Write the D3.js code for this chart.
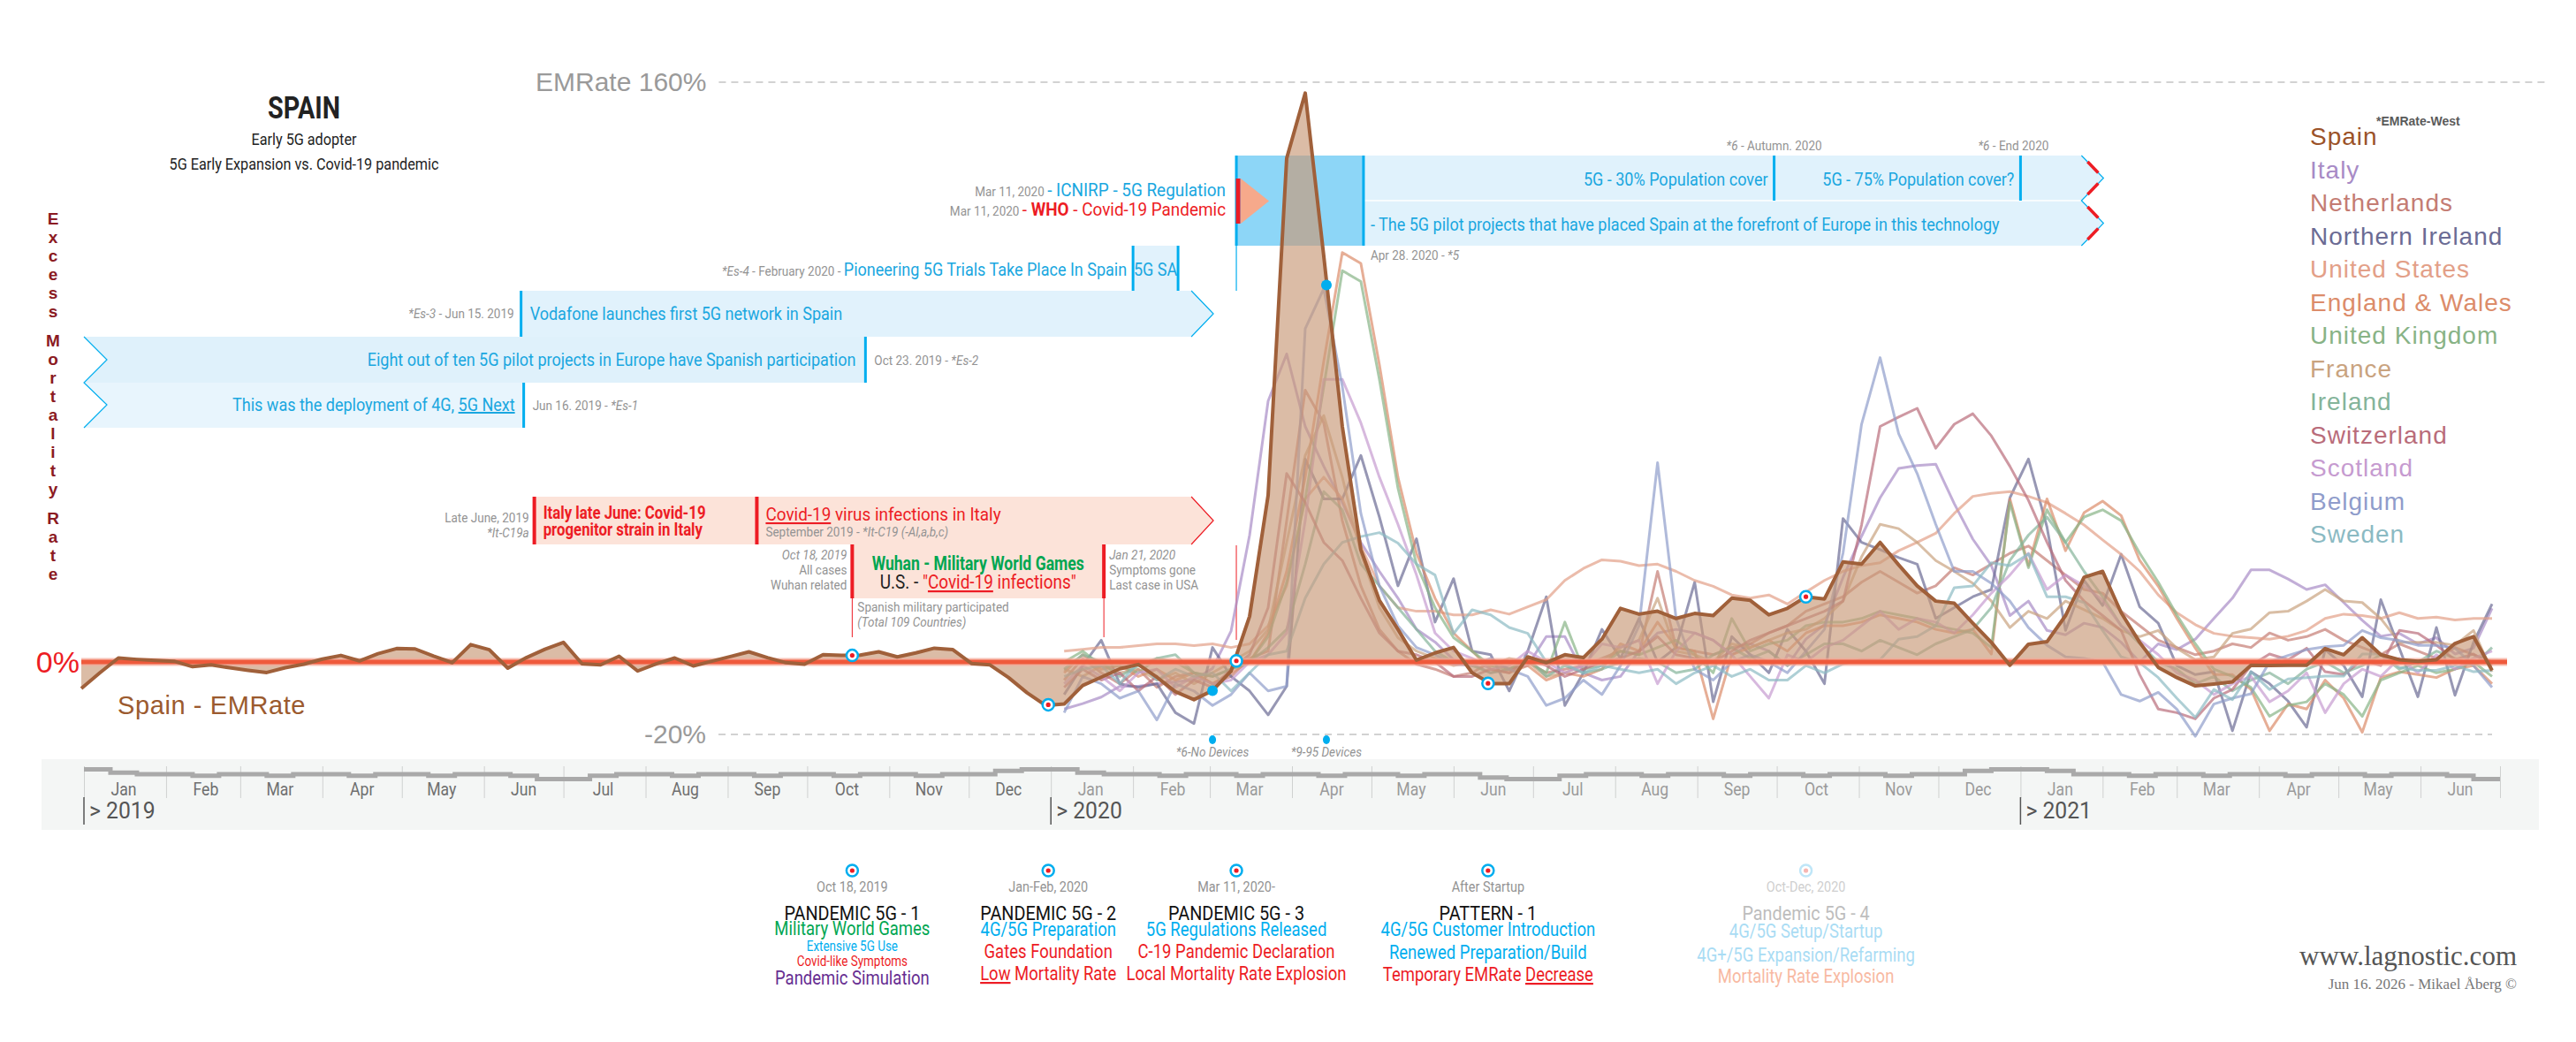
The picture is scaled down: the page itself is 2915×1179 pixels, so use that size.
<!DOCTYPE html>
<html>
<head>
<meta charset="utf-8">
<script src="https://cdn.jsdelivr.net/npm/d3@7"></script>
<style>
  body { margin: 0; background: #fff; }
</style>
</head>
<body>
<svg id="chart"></svg>
<script>
// ---- data -------------------------------------------------------------
// weekly excess mortality rate (%), Spain from the week of 2018-12-31
var spainStart = '2018-12-31'
var spain = [
  -7.3, -3, 1.1, 0.7, 0.4, 0.2, -1.3, -0.8, -1.6, -2.3, -2.9, -1.6, -0.6, 0.8, 1.8, 0.3, 2.3, 3.7, 3.6, 1.6,
  -0.2, 4.8, 3.4, -1.7, 1.2, 3.5, 5.4, -0.5, -0.8, 1.6, -2.5, -0.5, 1.1, -1.1, 0.2, 1.5, 2.8, 1.2, -0.2, -0.6,
  2.0, 1.8, 1.9, 2.8, 1.4, 2.5, 3.8, 3.4, -0.4, -0.8, -4.3, -8.5, -12, -11.6, -6.5, -4.2, -1.9, -0.7, -4.2, -8.2,
  -10.4, -7.9, -2.5, 12.6, 46, 139, 157, 112, 65, 31, 17, 9, 0.5, 2.5, 4, -3, -6, -6, 1.4, -0.2,
  2, 1.2, 6.3, 14.8, 13.2, 14, 12, 13.4, 12.8, 17.6, 17, 13, 14.8, 18, 17.4, 27.6, 27, 33, 26.8, 21,
  16.8, 16.2, 10.7, 5.4, -0.9, 4.9, 5.6, 12.8, 23.4, 25, 13.6, 5.4, -1.5, -4.3, -6.6, -6.1, -5.5, -0.9, -1, -0.9,
  -0.9, 3.7, 2, 6.7, 2, 0.6, 0.2, 0.6, 5.1, 7, -2.3
]

// the other countries, weekly from the week of 2020-01-06
var countriesStart = '2020-01-06'
var italy = [
  -13, -11.5, -9.7, -6.7, -6.7, -6, -5.5, -4.9, -1.8, 8.5,
  35, 72, 85, 65, 54, 44, 33, 25, 17.6, 9, 5.5, 0.6, -0.6,
  -3, -2, -1, 7, 7, -3, -5, -4, 3, 8, 9, 8, 6, 2, 5, 3, -1, 6.3, 10.3,
  23.3, 34.7, 45.3, 53.4, 54.2, 54.6, 43.7, 33.9, 26.6, 12.8, 16.8, 8.7, 7.5, 10.7, 9.5, 5.4,
  0, 5, 3.4, 6.3, 12, 17.6, 25.4, 25.4, 22.9, 20, 21.3, 16.4, 11.5, 7.1, 7.9, 5, 6.7, 2.2, 3.8, 14.8
]
var netherlands = [
  -5, 1, -3, -6, -2, -7, -4, -3, -6, -4,
  1, 3, 39, 75, 66, 39, 21, 9, 3, -0.6, -2, -4, -3,
  0, -2, 0, -3, -2, -1, 1, 3, 2, 25, 4, 3, 2, 4, 5, 8, 10, 14, 16,
  18, 22, 25, 22, 19, 21, 26, 24, 27, 30, 32, 28, 24, 20, 19, 14,
  10, 6, 4, 2, 3, 5, 4, 8, 6, 7, 9, 6, 4, 2, 5, 3, 1, 4, 2, 0
]
var northernIreland = [
  -9, -1, 6, -6, -7, -6, -14, -17, 4, -4,
  -8, -14.6, -6.7, 56, 45, 45, 57, 40, 21, 34, 11, 23, 3,
  2, -8, 3, 18, -12, -3, 9, 1, 12, 0, 4, 22, -11, 7, 2, -3, 9, 3, -6,
  39.6, 33, 31, 28.8, 27, 12, 15, 18, 20, 45.3, 56, 37.2, 8.7, 22.5, 15.6, 29.7,
  15.2, 10.7, -1, -3.5, -2.7, -19, -2.7, -6, -10.8, -18, 3.4, -1, -9.6, 17.2, 3.8, -9.6, 9.5, -9.2, 5.4, 16
]
var unitedStates = [
  3, 3.5, 4, 4, 4.5, 5, 5, 4.5, 5, 4,
  5, 10, 21, 45, 51, 45, 32, 21, 15, 14, 14, 13, 13,
  14.4, 13.2, 15.2, 17.2, 22.5, 25.8, 28.2, 27.8, 26.6, 27, 25, 22.5, 20.9, 18.5, 17.6, 18.5, 16, 19.3, 22.5,
  25, 26.6, 27.4, 30.7, 33, 35.5, 41, 45.7, 46.5, 47, 45.7, 44, 41, 37.8, 33.7, 29.7,
  25, 18.5, 13.6, 10.3, 7.9, 7.1, 6.7, 6.3, 7.1, 8.7, 12, 13.2, 12.8, 12, 13.6, 12, 12.4, 11.6, 12, 12
]
var englandWales = [
  -3, 2, -2, -1, -4, -2, -5, -3, -6, -3,
  0, 8, 25, 51, 83, 113, 110, 82, 51, 30, 17.6, 8, 3,
  -2, -3, -1, -5, -3, -4, -2, 5, 3, 11, 4, 3, -15.7, 2, 4, 6, 3, 8, 10,
  10, 11, 13, 12, 11, 9, 8, 9, 2.2, 45, 26.6, 45, 30.7, 41.2, 44.4, 40.4,
  28, 20.9, 12, 3.8, -3.5, -3.5, -7.6, -19, -11.6, -13, -5, -10, -19.4, -4.3, -2.7, -3.5, -4.3, -1.9, -1, -6
]
var unitedKingdom = [
  0, 3, -1, -1, -3, 1, 0, -3, -4, -2,
  0, 7, 22, 45, 76, 108, 105, 78, 48, 27, 15, 6.7, 3,
  -1, -2, 0, -3, 11, -2, -1, 3, 2, 4, 6, 2, -3, 12, 3, 5, 6, 10, 11,
  11, 12, 14, 13, 12, 10, 9, 8, 4, 44, 26, 42, 33, 40, 42, 39,
  30, 22, 13, 5, -2, -4, -7, -15, -12, -11, -6, -9, -15, -5, -3, -1, -3, -2, 0, -4
]
var france = [
  -2, -4, -1, -3, -2, -5, -3, -6, -3, 0,
  3, 9, 33, 57, 68, 51, 30, 15, 6.7, 3, 1, -1, 0,
  -1, 1, 0, -4, -3, -1, 0, 4, 6, 17.6, 3, 2, 0, 5, 4, 6, 8, 9, 12,
  16.8, 29, 38, 36.8, 33, 28, 25, 21.7, 16.8, 9.5, 14, 12, 16.8, 14.4, 12, 8.7,
  7, 8.7, 3.8, 0.6, 1.4, 7.9, 9.1, 13.6, 14, 16.8, 20, 16.8, 16.4, 12, 5.4, 5.4, 5.4, 4.6, 8.7, -2.7
]
var ireland = [
  -2, 2, 0, -4, -1, 1, 2, -3, -4, -2,
  0, 4, 9, 27, 47, 42, 27, 21, 15, 9, 3, 0, -1,
  -3, -2, 1, -4, -1, -3, -2, 0, 1, 0, -3, -2, 2, 4, 1, 3, -1, 2, 5,
  5, 3, 6, 4, 2, 5, 7, 9, 15, 28, 35, 40, 33, 25, 18, 10,
  5, 0, -2, -6, -4, -8, -5, -3, -6, -2, 0, -3, -1, 2, -2, 0, 3, 1, -1, 4
]
var switzerland = [
  -7, -2, -5, -3, -8, -4, -9, -5, -7, -2,
  2, 15, 52, 44, 33, 28, 17.6, 8, 3, 2, 0, -4, -4,
  -2, -3, 1, -1, -4, -2, 0, 1, 3, 7, 2, 1, 0, 3, 6, 8, 10, 12, 14,
  16.8, 37.8, 65, 67.6, 70, 59, 65.6, 68.5, 62.4, 54, 44.6, 33, 22.5, 16.8, 12.8, 8.7,
  -3.5, -13, -14, -15.7, -10, -7.6, -1, 2.2, 0.6, 3.8, -2.7, -3.5, 0.6, -1, 8.7, 7.9, 4.6, 0.6, 2.2, -1
]
var scotland = [
  -6, -1, -4, -8, -3, -2, -7, -4, -6, -5,
  0, 2, 8, 39, 78, 78, 66, 51, 38, 24, 8, 3, 1,
  -2, -1, 3, 0, -3, -1, 5, 4, 6, -6, 3, 8, 6, 2, -4, -10, 2, 0, 4,
  6, 10, 14, 9, 12, 11, 8, 13, 19, 24, 30, 20, 24, 21, 17, 10,
  6, 2, -3, -5, -9, -6, -4, -11, -8, -3, -14, -6, -2, -4, 1, -3, 2, -2, 1, 3
]
var belgium = [
  -14, -4, -6, -10, -8, -16, -6, -8, -12, -9,
  -3, -8, -6.7, 92, 103, 76, 41, 21, 10, 4, 2, -0.6, -1,
  1, -2, -4, -12, -10, -5, -9, -1, 10, 55, 12, -2, -5, 0, 2, 0, -3, 3, 9,
  30, 65.6, 84, 63, 52, 38, 25, 25, 21.7, 16.8, 9.5, 4.6, 1.4, 1, 0, -9,
  -10.8, -8.4, -13, -20.5, -11.6, -10, -8.8, 0, 1.8, 3.4, 4.2, 4.6, 8.7, 6.7, 5.9, 4.6, 4.6, 3.8, -1, -7
]
var sweden = [
  -4, -2, -1, -6, 0, -5, -2, -4, -3, -8,
  -3, 2, 3, 17.6, 27, 33, 34.6, 35.7, 32.8, 27, 24, 7.8, 14.4,
  13, 9.5, 7.9, 0, -0.5, -3, -1, -2, -3, -2, -6, -3, -1, -4, -2, -5, -5, -1, -3,
  -0.5, 0.6, 0.6, 6.3, 7, 10, 20.5, 21, 27.4, 26.6, 29.8, 18, 18, 16.4, 8.7, 1.4,
  -0.2, -4.3, -10, -15.3, -7.6, -10.4, -2.7, -7.6, -4.7, -4.3, -3.9, -3.9, 2.2, 2.2, -1.5, -2.3, -2.3, -1, -2.7, -2.3
]

var countryNames = ['Italy', 'Netherlands', 'Northern Ireland', 'United States', 'England & Wales',
  'United Kingdom', 'France', 'Ireland', 'Switzerland', 'Scotland', 'Belgium', 'Sweden']
var countrySeries = [italy, netherlands, northernIreland, unitedStates, englandWales,
  unitedKingdom, france, ireland, switzerland, scotland, belgium, sweden]

// target markers on the Spain curve (also the columns of the bottom key)
var markerDates = ['2019-10-18', '2019-12-31', '2020-03-11', '2020-06-14', '2020-10-12']
var markerValues = [1.8, -11.8, 0.3, -5.9, 18]

// device dots
var deviceDates = ['2020-03-02', '2020-04-14']
var deviceValues = [-7.9, 104]
var deviceLabels = ['*6-No Devices', '*9-95 Devices']

// grey step strip above the months, three levels per month (Jan 2019 .. Jun 2021)
var monthStrip = [
  0, 2, 3,  3, 4, 3,  3, 4, 3,  3, 4, 3,  3, 4, 3,  3, 4, 6,  6, 4, 3,  3, 4, 3,  3, 4, 3,  3, 4, 3,  3, 4, 3,  3, 1, 0,
  0, 2, 3,  3, 4, 3,  3, 4, 3,  3, 4, 3,  3, 4, 3,  3, 5, 6,  6, 4, 3,  3, 4, 3,  3, 4, 3,  3, 4, 3,  3, 4, 3,  3, 1, 0,
  0, 1, 3,  3, 4, 3,  3, 4, 3,  3, 4, 3,  3, 4, 3,  3, 4, 6
]
var monthNames = ['Jan', 'Feb', 'Mar', 'Apr', 'May', 'Jun', 'Jul', 'Aug', 'Sep', 'Oct', 'Nov', 'Dec']
var yearLabels = ['> 2019', '> 2020', '> 2021']
var yTicks = [160, 0, -20]

// annotation anchor dates
var ann = {
  es1: '2019-06-16', es2: '2019-10-23', es3: '2019-06-15', saFrom: '2020-02-01', saTo: '2020-02-18',
  arrowEnd: '2020-02-23', mar11: '2020-03-11', apr28: '2020-04-28', autumn: '2020-09-30', end2020: '2021-01-01',
  bandEnd: '2021-01-24', italyJune: '2019-06-20', italySep: '2019-09-12', wuhan: '2019-10-18', jan21: '2020-01-21'
}

var keyColumns = [
  {date: 'Oct 18, 2019', title: 'PANDEMIC 5G - 1'},
  {date: 'Jan-Feb, 2020', title: 'PANDEMIC 5G - 2'},
  {date: 'Mar 11, 2020-', title: 'PANDEMIC 5G - 3'},
  {date: 'After Startup', title: 'PATTERN - 1'},
  {date: 'Oct-Dec, 2020', title: 'Pandemic 5G - 4'}
]

// ---- styles -------------------------------------------------------------
var spainColor = '#9b5228'
var countryColors = ['#a88bc6', '#c47c73', '#6b6b94', '#e3a088', '#dc8c6a', '#88b386',
  '#c9a37f', '#84b49a', '#b96c7a', '#c69bd0', '#8f9ccb', '#8bbac3']
var BLUE = '#00aeef', RED = '#ed1c24', GREY = '#939393', GREEN = '#00a651'
// no condensed face is installed, so Roboto is squeezed with textLength
var COND = "Roboto,'Open Sans',sans-serif"
var SANS = "'Liberation Sans',Arial,sans-serif"

// ---- setup --------------------------------------------------------------
var W = 2915, H = 1179
var svg = d3.select('#chart').attr('width', W).attr('height', H)
var parse = d3.timeParse('%Y-%m-%d')
var x = d3.scaleTime().domain([parse('2019-01-01'), parse('2021-07-01')]).range([95, 2829])
var y = d3.scaleLinear().domain([-20, 160]).range([831, 93])
var X = function(s){ return x(parse(s)) }
var weekDate = function(start, i){ return d3.timeDay.offset(parse(start), 7 * i) }

function txt(g, px, py, parts, o){
  o = o || {}
  var font = o.font || COND
  var t = g.append('text').attr('x', px).attr('y', py)
    .attr('text-anchor', o.anchor || 'start')
    .style('font-family', font)
    .style('font-size', (o.size || 20) + 'px')
    .style('font-weight', o.weight || null)
    .style('letter-spacing', o.ls || null)
  parts.forEach(function(p){
    if (typeof p == 'string') p = {t: p}
    t.append('tspan').text(p.t)
      .attr('fill', p.c || o.fill || '#333')
      .style('font-size', p.s ? p.s + 'px' : null)
      .style('font-style', p.i ? 'italic' : null)
      .style('font-weight', p.b ? 'bold' : null)
      .style('text-decoration', p.u ? 'underline' : null)
  })
  var cf = o.cf != null ? o.cf : (font == COND ? 0.9 : 1)
  if (cf != 1) {
    var len = t.node().getComputedTextLength()
    t.attr('textLength', len * cf).attr('lengthAdjust', 'spacingAndGlyphs')
  }
  return t
}

var gAnn = svg.append('g')
var gAxis = svg.append('g')
var gLines = svg.append('g')
var gTop = svg.append('g')

// ---- title ----------------------------------------------------------------
txt(gTop, 344, 134, ['SPAIN'], {anchor: 'middle', size: 35, weight: 'bold', fill: '#222', cf: 0.82})
txt(gTop, 344, 164, ['Early 5G adopter'], {anchor: 'middle', size: 18, fill: '#222'})
txt(gTop, 344, 192, ['5G Early Expansion vs. Covid-19 pandemic'], {anchor: 'middle', size: 18, fill: '#222'})

// vertical axis title
var words = ['Excess', 'Mortality', 'Rate'], ly = 254
words.forEach(function(w){
  w.split('').forEach(function(ch){
    txt(gTop, 60, ly, [ch], {anchor: 'middle', size: 19, weight: 'bold', fill: '#8b1a22', font: SANS})
    ly += 21
  })
  ly += 12
})

// ---- annotation bands ----------------------------------------------------
function poly(g, pts, fill, stroke, sw){
  return g.append('path').attr('d', 'M' + pts.map(function(p){ return p.join(',') }).join('L') + 'Z')
    .attr('fill', fill).attr('stroke', stroke || 'none').attr('stroke-width', sw || 0)
}
function pline(g, pts, stroke, sw){
  return g.append('path').attr('d', 'M' + pts.map(function(p){ return p.join(',') }).join('L'))
    .attr('fill', 'none').attr('stroke', stroke).attr('stroke-width', sw)
}
function bar(g, px, y0, y1, color, w){
  g.append('rect').attr('x', px - w / 2).attr('y', y0).attr('width', w).attr('height', y1 - y0).attr('fill', color)
}

var x0 = x.range()[0], xEnd = X(ann.arrowEnd), tip = 25

// Eight out of ten ... (notched tail on the left)
poly(gAnn, [[x0, 381], [X(ann.es2), 381], [X(ann.es2), 433], [x0, 433], [x0 + 26, 407]], '#dff1fb')
// This was the deployment ...
poly(gAnn, [[x0, 433], [X(ann.es1), 433], [X(ann.es1), 484], [x0, 484], [x0 + 26, 458]], '#e8f5fd')
pline(gAnn, [[x0, 381], [x0 + 26, 407], [x0, 433], [x0 + 26, 458], [x0, 484]], BLUE, 1.2)
bar(gAnn, X(ann.es2), 381, 433, BLUE, 3)
bar(gAnn, X(ann.es1), 433, 484, BLUE, 3)
txt(gAnn, X(ann.es2) - 11, 414, ['Eight out of ten 5G pilot projects in Europe have Spanish participation'], {anchor: 'end', fill: '#1aa7e0', size: 20})
txt(gAnn, X(ann.es2) + 10, 413, [{t: 'Oct 23. 2019 - '}, {t: '*Es-2', i: 1}], {fill: GREY, size: 15})
txt(gAnn, X(ann.es1) - 10, 465, [{t: 'This was the deployment of 4G, '}, {t: '5G Next', u: 1}], {anchor: 'end', fill: '#1aa7e0', size: 20})
txt(gAnn, X(ann.es1) + 10, 464, [{t: 'Jun 16. 2019 - '}, {t: '*Es-1', i: 1}], {fill: GREY, size: 15})

// Vodafone arrow
poly(gAnn, [[X(ann.es3), 329], [xEnd, 329], [xEnd + tip, 355], [xEnd, 381], [X(ann.es3), 381]], '#e1f2fc')
pline(gAnn, [[xEnd, 329], [xEnd + tip, 355], [xEnd, 381]], BLUE, 1.2)
bar(gAnn, X(ann.es3), 329, 381, BLUE, 3)
txt(gAnn, X(ann.es3) + 10, 362, ['Vodafone launches first 5G network in Spain'], {fill: '#1aa7e0', size: 20})
txt(gAnn, X(ann.es3) - 8, 360, [{t: '*Es-3', i: 1}, {t: ' - Jun 15. 2019'}], {anchor: 'end', fill: GREY, size: 15})

// Pioneering 5G trials + 5G SA box
poly(gAnn, [[X(ann.saFrom), 278], [X(ann.saTo), 278], [X(ann.saTo), 329], [X(ann.saFrom), 329]], '#e1f2fc')
bar(gAnn, X(ann.saFrom), 278, 329, BLUE, 3)
bar(gAnn, X(ann.saTo), 278, 329, BLUE, 3)
txt(gAnn, (X(ann.saFrom) + X(ann.saTo)) / 2, 312, ['5G SA'], {anchor: 'middle', fill: '#1aa7e0', size: 20})
txt(gAnn, X(ann.saFrom) - 7, 312, [{t: '*Es-4', i: 1, c: GREY, s: 15}, {t: ' - February  2020 - ', c: GREY, s: 15},
  {t: 'Pioneering 5G Trials Take Place In Spain', c: '#1aa7e0'}], {anchor: 'end', size: 20})

// top band: regulation / pandemic
var m11 = X(ann.mar11), a28 = X(ann.apr28), bEnd = X(ann.bandEnd)
poly(gAnn, [[a28, 176], [bEnd, 176], [bEnd + tip, 201.5], [bEnd, 227], [bEnd + tip, 252.5], [bEnd, 278], [a28, 278]], '#e0f2fc')
gAnn.append('line').attr('x1', a28).attr('x2', bEnd).attr('y1', 227).attr('y2', 227).attr('stroke', '#fff').attr('stroke-width', 1.5)
poly(gAnn, [[m11, 176], [a28, 176], [a28, 278], [m11, 278]], '#8dd6f7')
pline(gAnn, [[bEnd, 176], [bEnd + tip, 201.5], [bEnd, 227], [bEnd + tip, 252.5], [bEnd, 278]], BLUE, 1.2)
;[[176, 201.5, 227], [227, 252.5, 278]].forEach(function(c){
  pline(gAnn, [[bEnd + 7, c[0] + 7], [bEnd + 19, c[1] - 6]], RED, 3.5)
  pline(gAnn, [[bEnd + 19, c[1] + 6], [bEnd + 7, c[2] - 7]], RED, 3.5)
})
bar(gAnn, m11, 176, 278, BLUE, 3)
bar(gAnn, a28, 176, 278, BLUE, 3)
bar(gAnn, X(ann.autumn), 176, 227, BLUE, 3)
bar(gAnn, X(ann.end2020), 176, 227, BLUE, 3)
bar(gAnn, m11 + 2, 202, 253, RED, 5)
poly(gAnn, [[m11 + 5, 202], [m11 + 37, 227.5], [m11 + 5, 253]], '#f6a98b')
gAnn.append('line').attr('x1', m11).attr('x2', m11).attr('y1', 278).attr('y2', 329).attr('stroke', BLUE).attr('stroke-width', 1.2)

txt(gAnn, m11 - 12, 222, [{t: 'Mar 11, 2020 ', c: GREY, s: 15}, {t: ' - ', c: '#1aa7e0'}, {t: 'ICNIRP', c: '#1aa7e0'},
  {t: ' - 5G Regulation', c: '#1aa7e0'}], {anchor: 'end', size: 21})
txt(gAnn, m11 - 12, 244, [{t: 'Mar 11, 2020 ', c: GREY, s: 15}, {t: ' - ', c: RED}, {t: 'WHO', c: RED, b: 1},
  {t: ' - Covid-19 Pandemic', c: RED}], {anchor: 'end', size: 21})
txt(gAnn, X(ann.autumn) - 7, 210, ['5G - 30% Population cover'], {anchor: 'end', fill: '#1aa7e0', size: 20})
txt(gAnn, X(ann.end2020) - 7, 210, ['5G - 75% Population cover?'], {anchor: 'end', fill: '#1aa7e0', size: 20})
txt(gAnn, X(ann.autumn), 170, [{t: '*6', i: 1}, {t: ' - Autumn. 2020'}], {anchor: 'middle', fill: GREY, size: 15})
txt(gAnn, X(ann.end2020) - 8, 170, [{t: '*6', i: 1}, {t: ' - End 2020'}], {anchor: 'middle', fill: GREY, size: 15})
txt(gAnn, a28 + 8, 261, ['- The 5G pilot projects that have placed Spain at the forefront of Europe in this technology'], {fill: '#1aa7e0', size: 20})
txt(gAnn, a28 + 8, 294, [{t: 'Apr 28. 2020 - '}, {t: '*5', i: 1}], {fill: GREY, size: 15})

// Italy band (red)
var iJ = X(ann.italyJune), iS = X(ann.italySep)
poly(gAnn, [[iJ, 562], [xEnd, 562], [xEnd + tip, 589], [xEnd, 616], [iJ, 616]], '#fce3d9')
pline(gAnn, [[xEnd, 562], [xEnd + tip, 589], [xEnd, 616]], RED, 1.2)
bar(gAnn, iJ, 562, 616, RED, 4)
bar(gAnn, iS, 562, 616, RED, 4)
txt(gAnn, iJ + 10, 587, ['Italy late June: Covid-19'], {fill: RED, size: 21, weight: 'bold', cf: 0.8})
txt(gAnn, iJ + 10, 606, ['progenitor strain in Italy'], {fill: RED, size: 21, weight: 'bold', cf: 0.8})
txt(gAnn, iJ - 6, 591, ['Late June, 2019'], {anchor: 'end', fill: GREY, size: 15})
txt(gAnn, iJ - 6, 608, [{t: '*It-C19a', i: 1}], {anchor: 'end', fill: GREY, size: 15})
txt(gAnn, iS + 10, 589, [{t: 'Covid-19', u: 1}, {t: ' virus infections in Italy'}], {fill: RED, size: 21})
txt(gAnn, iS + 10, 607, [{t: 'September 2019 - '}, {t: '*It-C19 (-Al,a,b,c)', i: 1}], {fill: GREY, size: 15})

// Wuhan box
var wu = X(ann.wuhan), j21 = X(ann.jan21)
poly(gAnn, [[wu, 616], [j21, 616], [j21, 677], [wu, 677]], '#fce3d9')
bar(gAnn, wu, 616, 677, RED, 4)
bar(gAnn, j21, 616, 677, RED, 4)
;[wu, j21, m11].forEach(function(px, k){
  gAnn.append('line').attr('x1', px).attr('x2', px).attr('y1', k < 2 ? 677 : 617).attr('y2', k < 2 ? 721 : 724)
    .attr('stroke', RED).attr('stroke-width', 1)
})
txt(gAnn, (wu + j21) / 2, 645, ['Wuhan - Military World Games'], {anchor: 'middle', fill: GREEN, size: 22, weight: 'bold', cf: 0.8})
txt(gAnn, (wu + j21) / 2, 666, [{t: 'U.S. - ', c: '#222'}, {t: '"', c: RED}, {t: 'Covid-19', c: RED, u: 1}, {t: ' infections"', c: RED}], {anchor: 'middle', size: 22, cf: 0.86})
txt(gAnn, wu - 6, 633, [{t: 'Oct 18, 2019', i: 1}], {anchor: 'end', fill: GREY, size: 15})
txt(gAnn, wu - 6, 650, ['All cases'], {anchor: 'end', fill: GREY, size: 15})
txt(gAnn, wu - 6, 667, ['Wuhan related'], {anchor: 'end', fill: GREY, size: 15})
txt(gAnn, j21 + 6, 633, [{t: 'Jan 21, 2020', i: 1}], {fill: GREY, size: 15})
txt(gAnn, j21 + 6, 650, ['Symptoms gone'], {fill: GREY, size: 15})
txt(gAnn, j21 + 6, 667, ['Last case in USA'], {fill: GREY, size: 15})
txt(gAnn, wu + 6, 692, ['Spanish military participated'], {fill: GREY, size: 15})
txt(gAnn, wu + 6, 709, [{t: '(Total 109 Countries)', i: 1}], {fill: GREY, size: 15})

// ---- axis band -------------------------------------------------------------
gAxis.append('rect').attr('x', 47).attr('y', 859).attr('width', 2826).attr('height', 80).attr('fill', '#f4f6f5')

var months = d3.timeMonth.range(x.domain()[0], x.domain()[1])
var axis = d3.axisBottom(x).tickValues(months.concat([x.domain()[1]])).tickSize(36).tickFormat('')
var ax = gAxis.append('g').attr('transform', 'translate(0,867)').call(axis)
ax.select('.domain').remove()
ax.selectAll('.tick line').attr('stroke', '#cfd1d0').attr('stroke-width', 1)

// step strip
var stripY = d3.scaleLinear().domain([0, 6]).range([870.5, 881.5])
var stripPts = []
months.forEach(function(m, mi){
  ;[1, 11, 21].forEach(function(day, k){
    stripPts.push([new Date(m.getFullYear(), m.getMonth(), day), monthStrip[mi * 3 + k]])
  })
})
stripPts.push([x.domain()[1], monthStrip[monthStrip.length - 1]])
gAxis.append('path').datum(stripPts)
  .attr('d', d3.line().curve(d3.curveStepAfter).x(function(d){ return x(d[0]) }).y(function(d){ return stripY(d[1]) }))
  .attr('fill', 'none').attr('stroke', '#a9a9a9').attr('stroke-width', 5)

months.forEach(function(m){
  txt(gAxis, x(d3.timeDay.offset(m, 15)), 900, [monthNames[m.getMonth()]],
    {anchor: 'middle', size: 20, cf: 0.88, fill: m.getFullYear() == 2019 ? '#6f6f6f' : '#9a9a9a'})
})
d3.timeYear.range(x.domain()[0], x.domain()[1]).forEach(function(yr, k){
  gAxis.append('line').attr('x1', x(yr)).attr('x2', x(yr)).attr('y1', 902).attr('y2', 933).attr('stroke', '#555').attr('stroke-width', 1.5)
  txt(gAxis, x(yr) + 6, 926, [yearLabels[k]], {size: 26, cf: 0.95, fill: '#555'})
})

// ---- y references --------------------------------------------------------------
yTicks.forEach(function(v){
  if (v == 0) {
    txt(gAxis, 90, y(0) + 12, ['0%'], {anchor: 'end', size: 34, fill: RED, font: SANS})
    return
  }
  var lbl = v > 0 ? 'EMRate ' + v + '%' : v + '%'
  var lx = v > 0 ? 606 : 729
  var t = txt(gAxis, lx, y(v) + 10, [lbl], {size: 30, fill: '#9a9a9a', font: SANS})
  var tw = t.node().getComputedTextLength()
  gAxis.append('line').attr('x1', lx + tw + 14).attr('x2', v > 0 ? 2880 : 2820).attr('y1', y(v)).attr('y2', y(v))
    .attr('stroke', '#d2d2d2').attr('stroke-width', 2).attr('stroke-dasharray', '8,6')
})

// ---- series ------------------------------------------------------------
var lineGen = function(start){
  return d3.line().x(function(d, i){ return x(weekDate(start, i)) }).y(function(d){ return y(d) })
}
countrySeries.forEach(function(s, k){
  gLines.append('path').datum(s).attr('d', lineGen(countriesStart))
    .attr('fill', 'none').attr('stroke', countryColors[k]).attr('stroke-width', 3)
    .attr('stroke-linejoin', 'round').attr('opacity', 0.7)
})

var area = d3.area().x(function(d, i){ return x(weekDate(spainStart, i)) }).y0(y(0)).y1(function(d){ return y(d) })
gLines.append('path').datum(spain).attr('d', area).attr('fill', '#c99a78').attr('opacity', 0.66)

// zero line
gLines.append('line').attr('x1', 92).attr('x2', 2837).attr('y1', y(0)).attr('y2', y(0))
  .attr('stroke', '#f6a797').attr('stroke-width', 9).attr('opacity', 0.7)
gLines.append('line').attr('x1', 92).attr('x2', 2837).attr('y1', y(0)).attr('y2', y(0))
  .attr('stroke', '#ef5a3c').attr('stroke-width', 5)

gLines.append('path').datum(spain).attr('d', lineGen(spainStart))
  .attr('fill', 'none').attr('stroke', '#a0603a').attr('stroke-width', 4).attr('stroke-linejoin', 'round')

txt(gLines, 133, 808, ['Spain - EMRate'], {size: 29, fill: '#9b5a2e', font: SANS, ls: '0.6px'})

// markers
function target(g, px, py, faded){
  g.append('circle').attr('cx', px).attr('cy', py).attr('r', 6.5).attr('fill', '#fff')
    .attr('stroke', faded ? '#bfe6f8' : BLUE).attr('stroke-width', 2.5)
  g.append('circle').attr('cx', px).attr('cy', py).attr('r', 2.6).attr('fill', faded ? '#f6b7b3' : RED)
}
markerDates.forEach(function(d, k){ target(gLines, X(d), y(markerValues[k])) })
deviceDates.forEach(function(d, k){
  gLines.append('circle').attr('cx', X(d)).attr('cy', y(deviceValues[k])).attr('r', 6).attr('fill', BLUE)
  gLines.append('ellipse').attr('cx', X(d)).attr('cy', 837).attr('rx', 4).attr('ry', 5).attr('fill', BLUE)
  txt(gLines, X(d), 856, [{t: deviceLabels[k], i: 1}], {anchor: 'middle', size: 15, fill: GREY})
})

// ---- legend ------------------------------------------------------------------
var legendNames = ['Spain'].concat(countryNames)
var legendColors = [spainColor].concat(countryColors)
legendNames.forEach(function(n, k){
  txt(gTop, 2614, 164 + k * 37.5, [n], {size: 28, fill: legendColors[k], font: SANS, ls: '1px'})
})
txt(gTop, 2689, 142, ['*EMRate-West'], {size: 14, fill: '#5a5a5a', font: SANS, weight: 'bold'})

// ---- bottom key ------------------------------------------------------------------
var keyLines = [
  [[{t: 'Military World Games', c: GREEN}], 1058, 22, [{t: 'Extensive 5G Use', c: BLUE}], 1076, 16,
   [{t: 'Covid-like Symptoms', c: RED}], 1093, 16, [{t: 'Pandemic Simulation', c: '#662d91'}], 1114, 22],
  [[{t: '4G/5G Preparation', c: BLUE}], 1059, 22, [{t: 'Gates Foundation', c: RED}], 1084, 22,
   [{t: 'Low', c: RED, u: 1}, {t: ' Mortality Rate', c: RED}], 1109, 22],
  [[{t: '5G Regulations Released', c: BLUE}], 1059, 22, [{t: 'C-19 Pandemic Declaration', c: RED}], 1084, 22,
   [{t: 'Local Mortality Rate Explosion', c: RED}], 1109, 22],
  [[{t: '4G/5G Customer Introduction', c: BLUE}], 1059, 22, [{t: 'Renewed Preparation/Build', c: BLUE}], 1085, 22,
   [{t: 'Temporary EMRate ', c: RED}, {t: 'Decrease', c: RED, u: 1}], 1110, 22],
  [[{t: '4G/5G Setup/Startup', c: '#a9dcf4'}], 1061, 22, [{t: '4G+/5G Expansion/Refarming', c: '#a9dcf4'}], 1088, 22,
   [{t: 'Mortality Rate Explosion', c: '#f8b9a2'}], 1112, 22]
]
keyColumns.forEach(function(col, k){
  var cx = X(markerDates[k]), faded = k == 4
  target(gTop, cx, 985, faded)
  txt(gTop, cx, 1009, [col.date], {anchor: 'middle', size: 16, fill: faded ? '#cfcfcf' : GREY})
  txt(gTop, cx, 1041, [col.title], {anchor: 'middle', size: 22, fill: faded ? '#bdbdbd' : '#111'})
  var L = keyLines[k]
  for (var j = 0; j < L.length; j += 3) txt(gTop, cx, L[j + 1], L[j], {anchor: 'middle', size: L[j + 2], cf: 0.84})
})

// ---- signature ------------------------------------------------------------------
txt(gTop, 2848, 1092, ['www.lagnostic.com'], {anchor: 'end', size: 31, fill: '#555', font: "'Liberation Serif','DejaVu Serif',serif"})
txt(gTop, 2848, 1119, ['Jun 16. 2026 - Mikael Åberg ©'], {anchor: 'end', size: 17, fill: '#777', font: "'Liberation Serif','DejaVu Serif',serif"})
</script>
</body>
</html>
